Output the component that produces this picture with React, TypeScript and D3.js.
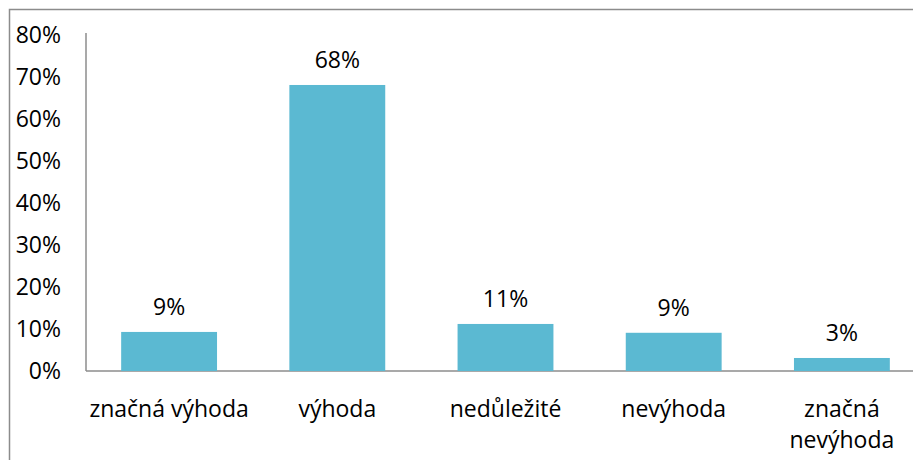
import React from "react";
import * as d3 from "d3";

const categories = ["značná výhoda", "výhoda", "nedůležité", "nevýhoda", "značná nevýhoda"];
const categoryLines = [["značná výhoda"], ["výhoda"], ["nedůležité"], ["nevýhoda"], ["značná", "nevýhoda"]];
const values = [0.093, 0.681, 0.112, 0.091, 0.031];
const valueLabels = ["9%", "68%", "11%", "9%", "3%"];
const yTicks = [0, 0.1, 0.2, 0.3, 0.4, 0.5, 0.6, 0.7, 0.8];

export default function App() {
  const W = 913, H = 460;
  const left = 85, right = 926, top = 35, bottom = 371;
  const x = d3.scaleBand<string>().domain(categories).range([left, right]).paddingInner(0.43).paddingOuter(0.215);
  const y = d3.scaleLinear().domain([0, 0.8]).range([bottom, top]);
  const font = "'Open Sans', sans-serif";
  const fs = 23;
  return (
    <svg width={W} height={H} style={{ position: "absolute", left: 0, top: 0 }} fontFamily={font}>
      <rect x={0} y={0} width={W} height={H} fill="#fff" />
      <path d={`M9.5,${H} V9.5 H${W}`} fill="none" stroke="#8c8c8c" strokeWidth={1.5} />
      <line x1={86} x2={86} y1={33} y2={bottom} stroke="#8c8c8c" strokeWidth={1.5} />
      <line x1={86} x2={W} y1={bottom} y2={bottom} stroke="#8c8c8c" strokeWidth={1.5} />
      {yTicks.map((t) => (
        <text key={t} x={61} y={y(t)} dy="0.35em" textAnchor="end" fontSize={fs} fill="#000">
          {d3.format(".0%")(t)}
        </text>
      ))}
      {categories.map((c, i) => (
        <g key={c}>
          <rect x={x(c)} y={y(values[i])} width={x.bandwidth()} height={bottom - y(values[i])} fill="#5bb9d2" />
          <text x={x(c)! + x.bandwidth() / 2} y={y(values[i]) - 25} dy="0.35em" textAnchor="middle" fontSize={fs} fill="#000">
            {valueLabels[i]}
          </text>
          {categoryLines[i].map((ln, j) => (
            <text key={j} x={x(c)! + x.bandwidth() / 2} y={409 + j * 31} dy="0.35em" textAnchor="middle" fontSize={fs} fill="#000">
              {ln}
            </text>
          ))}
        </g>
      ))}
    </svg>
  );
}
